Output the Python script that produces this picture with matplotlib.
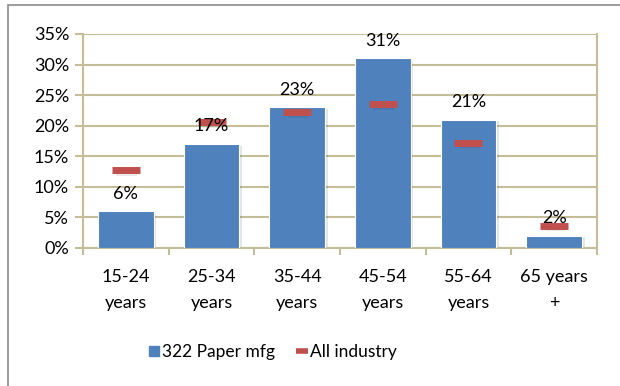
import matplotlib.pyplot as plt
from matplotlib.patches import Rectangle
from matplotlib.lines import Line2D
from matplotlib.ticker import FuncFormatter

# Age distribution of workers
age_groups = ['15-24\nyears', '25-34\nyears', '35-44\nyears', '45-54\nyears', '55-64\nyears', '65 years\n+']
paper_mfg = [6, 17, 23, 31, 21, 2]
all_industry = [12.7, 20.6, 22.2, 23.5, 17.2, 3.6]

blue = '#4F81BD'
red = '#C0504D'
grid_col = '#C4BD97'

plt.rcParams['font.family'] = ['Lato', 'DejaVu Sans']

fig = plt.figure(figsize=(6.2, 3.86), dpi=100)
W, H = 620, 386
ax = fig.add_axes([83 / W, 1 - 248 / H, (597 - 83) / W, (248 - 34) / H])

# Outer chart border
fig.patches.append(Rectangle((8 / W, -0.1), 1.2, 1 - 5 / H + 0.1, transform=fig.transFigure,
                             fill=False, edgecolor='#8C8C8C', linewidth=1.2))

x = list(range(len(age_groups)))
bars = ax.bar(x, paper_mfg, width=0.65, color=blue, edgecolor='white', linewidth=0.8, zorder=3)

# Soft shadow behind the bars
for b in bars:
    ax.add_patch(Rectangle((b.get_x() + 0.03, 0), b.get_width(), b.get_height() - 0.25,
                           color='#000000', alpha=0.10, zorder=2, linewidth=0))

# All-industry markers as short red dashes with a faint shadow
for xi, v in zip(x, all_industry):
    ax.add_patch(Rectangle((xi - 0.11, v - 0.9), 0.24, 0.6, color='#000000', alpha=0.08,
                           zorder=3.5, linewidth=0))
ax.plot(x, all_industry, linestyle='none', marker='_', markersize=20, markeredgewidth=5,
        color=red, zorder=4)

for xi, v in zip(x, paper_mfg):
    ax.annotate(f'{v}%', (xi, v), xytext=(0, 7), textcoords='offset points',
                ha='center', va='bottom', fontsize=13, color='black', zorder=5)

ax.set_xlim(-0.5, len(age_groups) - 0.5)
ax.set_ylim(0, 35)
ax.set_yticks(range(0, 36, 5))
ax.yaxis.set_major_formatter(FuncFormatter(lambda v, p: f'{int(v)}%'))
ax.grid(axis='y', color=grid_col, linewidth=1.5, zorder=0)
ax.set_axisbelow(True)

ax.set_xticks([i - 0.5 for i in range(len(age_groups) + 1)], minor=False)
ax.set_xticklabels([])
ax.set_xticks(x, minor=True)
ax.set_xticklabels(age_groups, minor=True, fontsize=13, linespacing=1.75)
ax.tick_params(axis='x', which='minor', length=0, pad=15)
ax.tick_params(axis='x', which='major', length=5, color=grid_col, width=1.5)
ax.tick_params(axis='y', length=6, color=grid_col, width=1.5, labelsize=13, pad=4)

for side in ['left', 'bottom', 'right', 'top']:
    ax.spines[side].set_color(grid_col)
    ax.spines[side].set_linewidth(1.5)
ax.spines['top'].set_visible(False)

handles = [Line2D([], [], linestyle='none', marker='s', markersize=7, color=blue),
           Line2D([], [], linestyle='none', marker='_', markersize=8, markeredgewidth=4, color=red)]
fig.legend(handles, ['322 Paper mfg', 'All industry'], loc='center', bbox_to_anchor=(272 / W, 1 - 352 / H),
           ncol=2, frameon=False, fontsize=12.5, handletextpad=0.05, columnspacing=1.2, handlelength=0.8)

fig.savefig('out.png', dpi=100)
